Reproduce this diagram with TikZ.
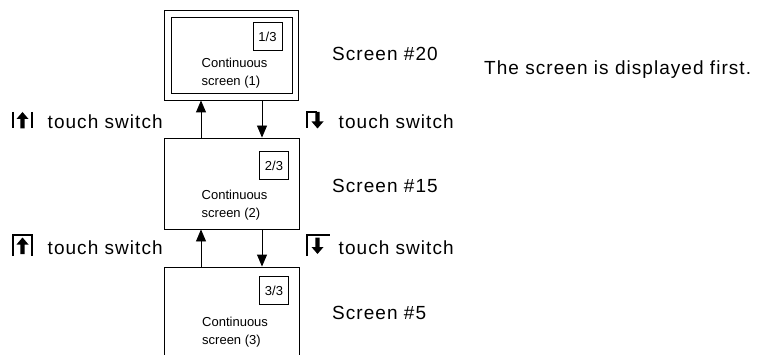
\documentclass[tikz,border=0pt]{standalone}
\usepackage{fontspec}
\setmainfont{Liberation Sans}
\newfontfamily\bigf{Liberation Sans}[LetterSpace=5.5]
\newfontfamily\smallf{Liberation Sans}[LetterSpace=0]
\usetikzlibrary{arrows.meta}
\tikzset{
  frame/.style={draw, line width=0.9pt, inner sep=0pt},
  idx/.style={draw, line width=0.9pt, inner sep=0pt, minimum width=29pt, minimum height=28pt, font=\smallf\fontsize{13}{15}\selectfont},
  boxtext/.style={anchor=west, align=left, inner sep=0pt, font=\smallf\fontsize{13}{18}\selectfont},
  label/.style={anchor=west, inner sep=0pt, font=\bigf\fontsize{19}{22}\selectfont},
  arr/.style={line width=0.9pt, -{Triangle[length=12pt,width=10pt]}},
  iconline/.style={line width=1.1pt},
  upar/.pic={\fill (0,-8.5) -- (6,-1.5) -- (2.2,-1.5) -- (2.2,8) -- (-2.2,8) -- (-2.2,-1.5) -- (-6,-1.5) -- cycle;},
  downar/.pic={\fill (0,8.5) -- (6,1.5) -- (2.2,1.5) -- (2.2,-8) -- (-2.2,-8) -- (-2.2,1.5) -- (-6,1.5) -- cycle;}
}
\begin{document}
\begin{tikzpicture}[x=1pt,y=-1pt]
\useasboundingbox (0,0) rectangle (759,355);
% screen 20
\node[frame, minimum width=134pt, minimum height=90pt] (s1) at (231,55) {};
\node[frame, minimum width=121pt, minimum height=76pt] (s1in) at (231.5,55) {};
\node[idx] (i1) at (267.5,36.5) {1/3};
\node[boxtext] (t1) at (201.5,73.5) {Continuous\\screen (1)};
% screen 15
\node[frame, minimum width=135pt, minimum height=91pt] (s2) at (231.5,183.5) {};
\node[idx] (i2) at (274,165.5) {2/3};
\node[boxtext] (t2) at (201.5,205) {Continuous\\screen (2)};
% screen 5
\node[frame, minimum width=135pt, minimum height=110pt] (s3) at (231.5,322) {};
\node[idx] (i3) at (274,290.5) {3/3};
\node[boxtext] (t3) at (202,332) {Continuous\\screen (3)};
% arrows
\draw[arr] ([xshift=-30.5pt]s2.north) -- ([xshift=-30pt]s1.south);
\draw[arr] ([xshift=31pt]s1.south) -- ([xshift=30.5pt]s2.north);
\draw[arr] ([xshift=-30.5pt]s3.north) -- ([xshift=-30.5pt]s2.south);
\draw[arr] ([xshift=30.5pt]s2.south) -- ([xshift=30.5pt]s3.north);
% labels
\node[label] (l20) at (332,54) {Screen \#20};
\node[label] (lf) at (484,69.5) {The screen is displayed first.};
\node[label] (l15) at (332,186) {Screen \#15};
\node[label] (l5) at (332,313) {Screen \#5};
\node[label] (tl1) at (47.5,121.5) {touch switch};
\node[label] (tr1) at (338.5,121.5) {touch switch};
\node[label] (tl2) at (47.5,247.5) {touch switch};
\node[label] (tr2) at (338.5,247.5) {touch switch};
% icons
\draw[iconline] (13,112) -- (13,128) (32,112) -- (32,128);
\pic at (22.5,120.5) {upar};
\draw[iconline] (13,256) -- (13,235) -- (32,235) -- (32,256);
\pic at (22.5,246) {upar};
\draw[iconline] (307,128) -- (307,112) -- (317,112);
\pic at (317.5,120) {downar};
\draw[iconline] (307,256) -- (307,235) -- (330,235);
\pic at (317.5,245.5) {downar};
\end{tikzpicture}
\end{document}
